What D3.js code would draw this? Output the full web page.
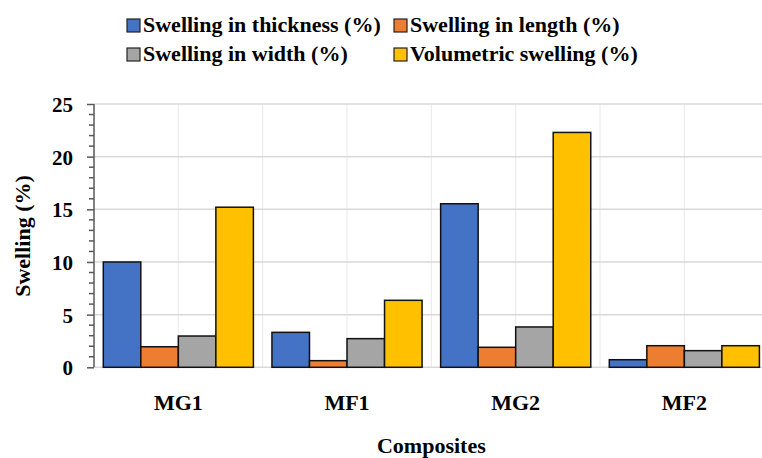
<!DOCTYPE html>
<html>
<head>
<meta charset="utf-8">
<script src="https://cdn.jsdelivr.net/npm/d3@7"></script>
<style>
  html, body { margin: 0; padding: 0; background: #fff; }
  svg { display: block; }
  text { font-family: "Liberation Serif", "Times New Roman", serif; font-weight: bold; fill: #000; }
</style>
</head>
<body>
<svg id="chart" width="762" height="458"></svg>
<script>
const categories = ["MG1", "MF1", "MG2", "MF2"];
const seriesNames = ["Swelling in thickness (%)", "Swelling in length (%)", "Swelling in width (%)", "Volumetric swelling (%)"];
const thickness = [10.0, 3.32, 15.53, 0.72];
const lengthSw = [1.95, 0.63, 1.9, 2.05];
const widthSw = [2.97, 2.72, 3.83, 1.58];
const volumetric = [15.2, 6.36, 22.3, 2.05];
const yTicks = [0, 5, 10, 15, 20, 25];
const colors = ["#4472C4", "#ED7D31", "#A5A5A5", "#FFC000"];

const seriesValues = [thickness, lengthSw, widthSw, volumetric];
const svg = d3.select("#chart");

const plotLeft = 94, plotRight = 768.7, plotTop = 104, plotBottom = 367.3;

const x0 = d3.scaleBand().domain(categories).range([plotLeft, plotRight]).padding(0);
const bw = x0.bandwidth();
const x1 = d3.scaleBand().domain(d3.range(seriesNames.length)).range([bw * 0.055, bw * 0.945]).padding(0);
const y = d3.scaleLinear().domain([0, 25]).range([plotBottom, plotTop]);

// vertical gridlines (category boundaries and centers)
const vlines = [];
categories.forEach(c => { vlines.push(x0(c)); vlines.push(x0(c) + bw / 2); });
vlines.push(x0(categories[categories.length - 1]) + bw);
svg.append("g").selectAll("line").data(vlines.slice(1)).join("line")
  .attr("x1", d => d).attr("x2", d => d)
  .attr("y1", plotTop).attr("y2", plotBottom)
  .attr("stroke", "#ececec").attr("stroke-width", 1.2);

// horizontal gridlines
svg.append("g").selectAll("line").data(yTicks.slice(1)).join("line")
  .attr("x1", plotLeft).attr("x2", plotRight)
  .attr("y1", d => y(d)).attr("y2", d => y(d))
  .attr("stroke", "#d9d9d9").attr("stroke-width", 1.5);

// x axis baseline
svg.append("line")
  .attr("x1", plotLeft).attr("x2", plotRight)
  .attr("y1", y(0)).attr("y2", y(0))
  .attr("stroke", "#d9d9d9").attr("stroke-width", 1.5);

// bars
const groups = svg.append("g").selectAll("g").data(categories).join("g")
  .attr("transform", c => `translate(${x0(c)},0)`);
groups.selectAll("rect")
  .data((c, ci) => seriesValues.map((vals, si) => ({ si, v: vals[ci] })))
  .join("rect")
  .attr("x", d => x1(d.si))
  .attr("width", x1.bandwidth())
  .attr("y", d => y(d.v))
  .attr("height", d => y(0) - y(d.v))
  .attr("fill", d => colors[d.si])
  .attr("stroke", "#111")
  .attr("stroke-width", 1.5);

// y axis
const yAxisG = svg.append("g").attr("transform", `translate(${plotLeft},0)`);
const yAxis = d3.axisLeft(y).tickValues(yTicks).tickSize(7).tickPadding(14).tickFormat(d3.format("d"));
yAxisG.call(yAxis);
yAxisG.select(".domain").attr("stroke", "#595959").attr("stroke-width", 1.5).attr("d", `M0,${y(0)}V${y(25)}`);
yAxisG.selectAll(".tick line").attr("stroke", "#595959").attr("stroke-width", 1.5);
yAxisG.selectAll(".tick text").attr("font-size", 21).attr("font-family", "Liberation Serif").attr("font-weight", "bold").attr("fill", "#000").attr("dy", "0.36em");
// minor ticks
const minor = d3.range(0, 26).filter(v => v % 5 !== 0);
yAxisG.append("g").selectAll("line").data(minor).join("line")
  .attr("x1", -5).attr("x2", 0)
  .attr("y1", d => y(d)).attr("y2", d => y(d))
  .attr("stroke", "#595959").attr("stroke-width", 1.5);

// x labels
svg.append("g").selectAll("text").data(categories).join("text")
  .attr("x", c => x0(c) + bw / 2)
  .attr("y", 410)
  .attr("text-anchor", "middle")
  .attr("font-size", 22)
  .text(c => c);

// axis titles
svg.append("text")
  .attr("x", (plotLeft + plotRight) / 2).attr("y", 453)
  .attr("text-anchor", "middle").attr("font-size", 22)
  .text("Composites");
svg.append("text")
  .attr("transform", "translate(30,236) rotate(-90)")
  .attr("text-anchor", "middle").attr("font-size", 22)
  .text("Swelling (%)");

// legend
const legendPos = [
  { x: 127, y: 32 }, { x: 394, y: 32 },
  { x: 127, y: 61 }, { x: 394, y: 61 }
];
const lg = svg.append("g").selectAll("g").data(seriesNames).join("g")
  .attr("transform", (d, i) => `translate(${legendPos[i].x},${legendPos[i].y})`);
lg.append("rect")
  .attr("x", 0).attr("y", -13).attr("width", 13).attr("height", 13)
  .attr("fill", (d, i) => colors[i]).attr("stroke", "#222").attr("stroke-width", 1.2);
lg.append("text")
  .attr("x", 16).attr("y", 0)
  .attr("font-size", 22)
  .text(d => d);
</script>
</body>
</html>
